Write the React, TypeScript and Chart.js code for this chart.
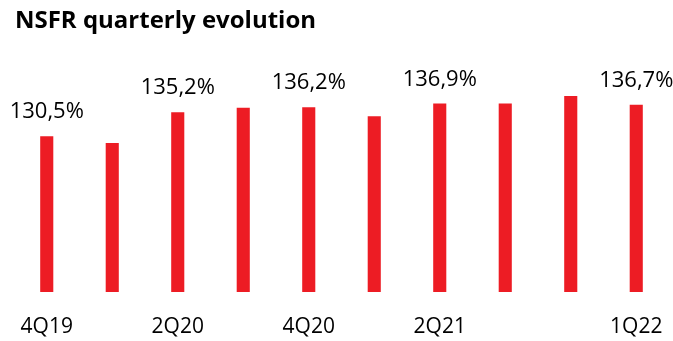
import React, { useEffect, useRef } from "react";
import { Chart, registerables } from "chart.js";

Chart.register(...registerables);

// Quarterly NSFR ratio (%)
const quarters = ["4Q19", "1Q20", "2Q20", "3Q20", "4Q20", "1Q21", "2Q21", "3Q21", "4Q21", "1Q22"];
const nsfr = [130.5, 129.2, 135.2, 136.1, 136.2, 134.4, 136.9, 136.9, 138.4, 136.7];
// Quarters that carry an axis label and a value label
const labelledQuarters = ["4Q19", "2Q20", "4Q20", "2Q21", "1Q22"];

const TITLE = "NSFR quarterly evolution";
const RED = "#ED1C24";

const fmt = (v: number) => v.toFixed(1).replace(".", ",") + "%";

const titlePlugin = {
  id: "leftTitle",
  afterDraw(chart: any) {
    const ctx = chart.ctx;
    ctx.save();
    ctx.font = "bold 23px 'Open Sans'";
    ctx.fillStyle = "#000";
    ctx.textBaseline = "alphabetic";
    ctx.textAlign = "left";
    const w = ctx.measureText(TITLE).width;
    const target = 301;
    ctx.translate(15, 28);
    ctx.scale(target / w, 1);
    ctx.fillText(TITLE, 0, 0);
    ctx.restore();
  },
};

const valueLabelPlugin = {
  id: "valueLabels",
  afterDatasetsDraw(chart: any) {
    const ctx = chart.ctx;
    const meta = chart.getDatasetMeta(0);
    ctx.save();
    ctx.font = "22px 'Open Sans'";
    ctx.fillStyle = "#000";
    ctx.textAlign = "center";
    ctx.textBaseline = "alphabetic";
    meta.data.forEach((bar: any, i: number) => {
      if (!labelledQuarters.includes(quarters[i])) return;
      ctx.fillText(fmt(nsfr[i]), bar.x, bar.y - 18);
    });
    ctx.restore();
  },
};

export default function App() {
  const ref = useRef<HTMLCanvasElement | null>(null);

  useEffect(() => {
    if (!ref.current) return;
    const chart = new Chart(ref.current, {
      type: "bar",
      data: {
        labels: quarters,
        datasets: [
          {
            data: nsfr,
            backgroundColor: RED,
            borderWidth: 0,
            barPercentage: 1,
            categoryPercentage: 0.2,
          },
        ],
      },
      options: {
        animation: false,
        responsive: false,
        maintainAspectRatio: false,
        layout: { padding: { left: 14, right: 4, top: 50, bottom: 0 } },
        plugins: {
          legend: { display: false },
          title: { display: false },
          tooltip: { enabled: false },
        },
        scales: {
          x: {
            grid: { display: false, drawTicks: false },
            border: { display: false },
            afterFit: (scale: any) => {
              scale.height = 49;
              scale.paddingLeft = 0;
              scale.paddingRight = 0;
            },
            ticks: {
              autoSkip: false,
              maxRotation: 0,
              padding: 22,
              color: "#000",
              font: { family: "'Open Sans'", size: 21 },
              callback: (_v: any, i: number) =>
                labelledQuarters.includes(quarters[i]) ? quarters[i] : "",
            },
          },
          y: {
            display: false,
            min: 100,
            max: 147.4,
          },
        },
      },
      plugins: [titlePlugin, valueLabelPlugin],
    });
    return () => chart.destroy();
  }, []);

  return (
    <div style={{ position: "fixed", left: 0, top: 0, width: 673, height: 341, background: "#fff" }}>
      <canvas ref={ref} width={673} height={341} style={{ display: "block" }} />
    </div>
  );
}
